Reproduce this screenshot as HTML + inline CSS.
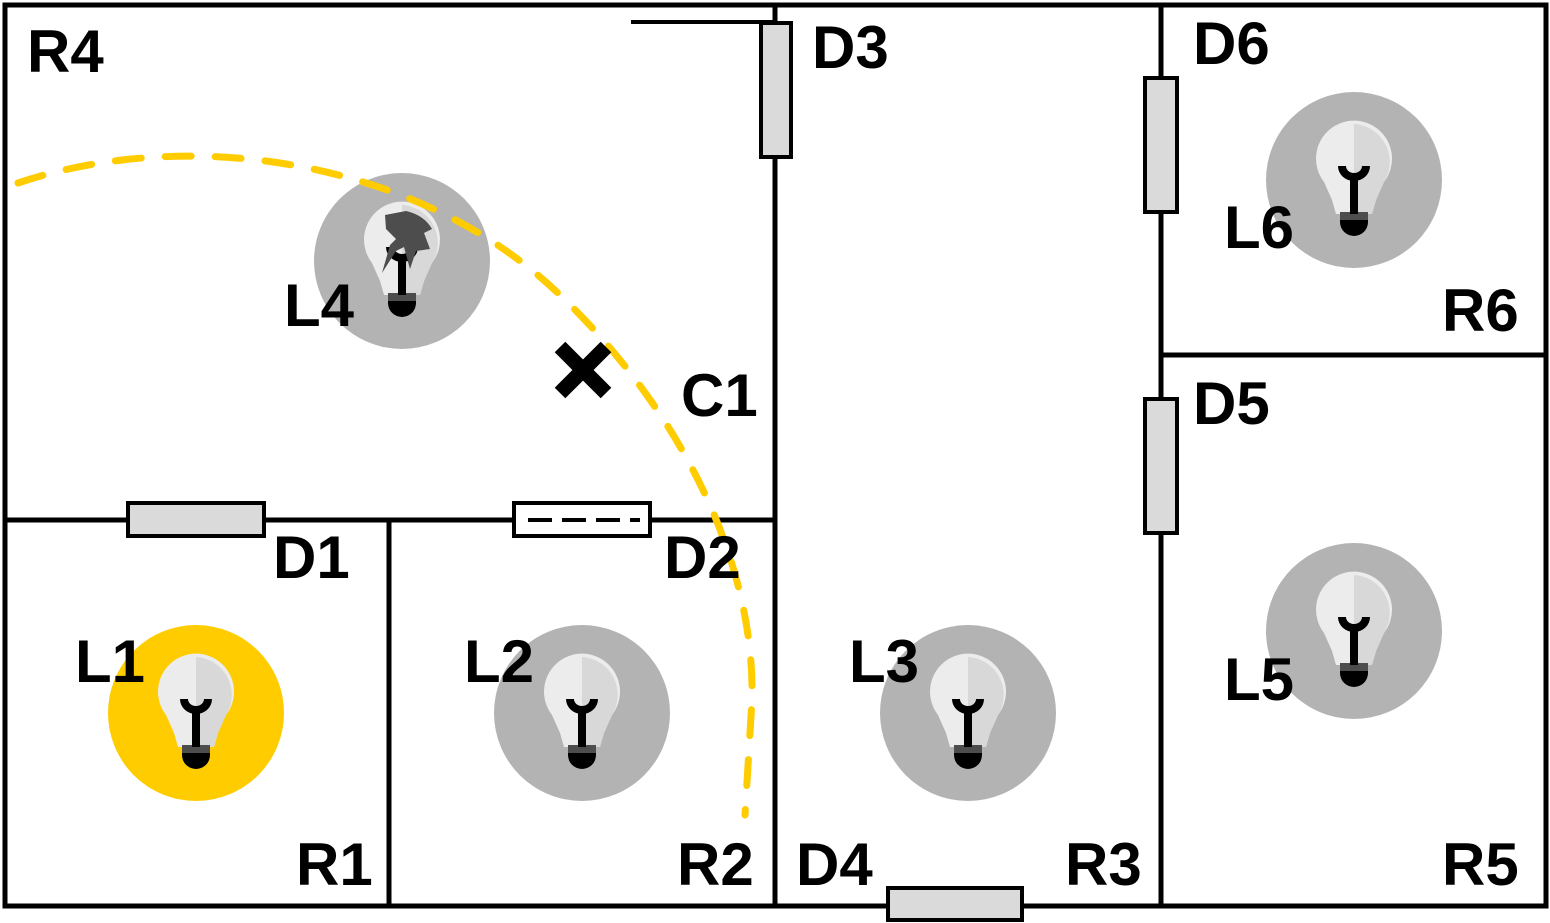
<!DOCTYPE html>
<html><head><meta charset="utf-8"><style>
html,body{margin:0;padding:0;background:#fff;}
svg{display:block;}
text{font-family:"Liberation Sans",sans-serif;font-weight:bold;font-size:60px;fill:#000;}
</style></head><body>
<svg width="1550" height="923" viewBox="0 0 1550 923">
<defs>
<g id="bulb">
<path d="M-30,2 A38,38 0 1 1 30,2 L22,20 L18,34 L-18,34 L-22,20 Z" fill="#ebeceb"/>
<path d="M0,-56 A38,38 0 0 1 30,2 L22,20 L18,34 L0,34 Z" fill="#d7d8d7"/>
<rect x="-14" y="32" width="28" height="8" fill="#4d4d4d"/>
<path d="M-14,40 L14,40 L14,42 A14,14 0 0 1 -14,42 Z" fill="#000"/>
<rect x="-4" y="-6" width="8" height="40" fill="#000"/>
<path d="M-16,-14 L-8,-14 A8,7 0 0 0 8,-14 L16,-14 A16,15 0 0 1 -16,-14 Z" fill="#000"/>
</g>
</defs>
<g stroke="#000" stroke-width="5" fill="none">
<rect x="5" y="5" width="1541" height="901"/>
<line x1="5" y1="520" x2="775" y2="520"/>
<line x1="775" y1="5" x2="775" y2="906"/>
<line x1="389" y1="520" x2="389" y2="906"/>
<line x1="1161" y1="5" x2="1161" y2="906"/>
<line x1="1161" y1="355" x2="1546" y2="355"/>
<line x1="631" y1="22" x2="775" y2="22" stroke-width="4"/>
</g>
<g stroke="#000" stroke-width="4" fill="#d9dad9">
<rect x="761" y="23" width="30" height="134"/>
<rect x="1145" y="78" width="32" height="134"/>
<rect x="1145" y="399" width="32" height="134"/>
<rect x="128" y="503" width="136" height="33"/>
<rect x="514" y="503" width="136" height="33" fill="#fff"/>
<line x1="528" y1="520" x2="640" y2="520" stroke-dasharray="24,10"/>
<rect x="888" y="888" width="134" height="32"/>
</g>
<g>
<g transform="translate(196,713)"><circle r="88" fill="#ffcc00"/><use href="#bulb"/></g>
<g transform="translate(582,713)"><circle r="88" fill="#b3b3b3"/><use href="#bulb"/></g>
<g transform="translate(968,713)"><circle r="88" fill="#b3b3b3"/><use href="#bulb"/></g>
<g transform="translate(402,261)"><circle r="88" fill="#b3b3b3"/><use href="#bulb"/>
<path d="M-17,-46 L4,-50 Q22,-46 30,-32 L22,-28 L28,-12 L14,-10 L8,8 L2,-14 L-6,-10 L-20,12 L-12,-16 L-6,-22 L-16,-32 Z" fill="#4d4d4d"/></g>
<g transform="translate(1354,631)"><circle r="88" fill="#b3b3b3"/><use href="#bulb"/></g>
<g transform="translate(1354,180)"><circle r="88" fill="#b3b3b3"/><use href="#bulb"/></g>
</g>
<path d="M18,183 C190,125 420,160 560,295 C680,410 755,560 752,700 L745,815" fill="none" stroke="#ffcc00" stroke-width="7" stroke-linecap="round" stroke-dasharray="26,24"/>
<g stroke="#000" stroke-width="15"><line x1="560" y1="347" x2="606" y2="393"/><line x1="606" y1="347" x2="560" y2="393"/></g>
<g>
<text x="27" y="72">R4</text>
<text x="812" y="68">D3</text>
<text x="1193" y="64">D6</text>
<text x="1224" y="248">L6</text>
<text x="1442" y="331">R6</text>
<text x="1193" y="424">D5</text>
<text x="284" y="326">L4</text>
<text x="681" y="416">C1</text>
<text x="273" y="578">D1</text>
<text x="664" y="578">D2</text>
<text x="75" y="682">L1</text>
<text x="464" y="682">L2</text>
<text x="849" y="682">L3</text>
<text x="1224" y="700">L5</text>
<text x="296" y="885">R1</text>
<text x="677" y="885">R2</text>
<text x="796" y="885">D4</text>
<text x="1065" y="885">R3</text>
<text x="1442" y="885">R5</text>
</g>
</svg>
</body></html>
